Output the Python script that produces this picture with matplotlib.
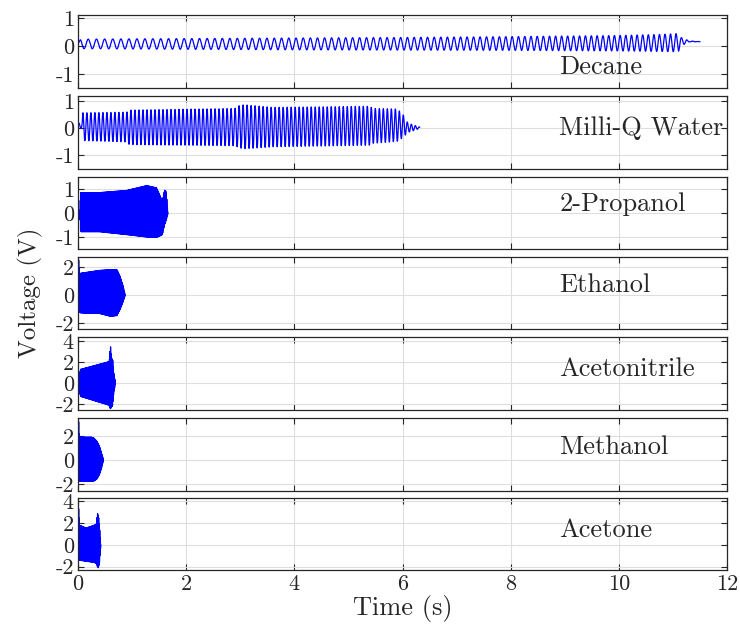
import numpy as np
import matplotlib
matplotlib.use("Agg")
import matplotlib.pyplot as plt

plt.rcParams["font.family"] = ["cmr10", "DejaVu Serif"]
plt.rcParams["mathtext.fontset"] = "cm"
plt.rcParams["axes.unicode_minus"] = False
plt.rcParams["axes.formatter.use_mathtext"] = False

# Liquids, top to bottom
names = ["Decane", "Milli-Q Water", "2-Propanol", "Ethanol",
         "Acetonitrile", "Methanol", "Acetone"]

# Envelope points: time (s), upper and lower voltage (V)
decane_t = [0, 0.05, 2, 4, 6, 8, 10, 10.8, 11.1, 11.15, 11.3, 11.5]
decane_up = [0.1, 0.24, 0.26, 0.28, 0.3, 0.33, 0.37, 0.41, 0.44, 0.3, 0.18, 0.15]
decane_lo = [0.05, -0.1, -0.12, -0.14, -0.15, -0.16, -0.18, -0.2, -0.21, 0.0, 0.14, 0.15]

water_t = [0, 0.07, 0.09, 0.9, 0.95, 2.9, 3.0, 3.1, 3.6, 5.4, 5.45, 5.9, 6.0, 6.1, 6.32]
water_up = [0.2, 0.2, 0.58, 0.6, 0.68, 0.74, 0.87, 0.87, 0.78, 0.82, 0.74, 0.72, 0.55, 0.2, 0.05]
water_lo = [0.0, 0.0, -0.45, -0.5, -0.6, -0.64, -0.73, -0.75, -0.68, -0.62, -0.55, -0.48, -0.35, -0.15, 0.0]

propanol_t = [0, 0.03, 0.05, 0.4, 0.9, 1.27, 1.45, 1.52, 1.56, 1.6, 1.63, 1.66]
propanol_up = [0, 0, 0.85, 0.85, 0.94, 1.14, 1.05, 0.7, 0.5, 0.95, 0.9, 0.1]
propanol_lo = [0, 0, -0.78, -0.78, -0.9, -1.0, -1.02, -0.95, -0.9, -0.5, -0.3, -0.05]

ethanol_t = [0, 0.01, 0.03, 0.05, 0.4, 0.6, 0.72, 0.78, 0.83, 0.87]
ethanol_up = [2.6, 2.6, 1.5, 1.55, 1.75, 1.8, 1.8, 1.3, 0.7, 0.05]
ethanol_lo = [-1.0, -1.0, -1.2, -1.26, -1.3, -1.5, -1.45, -1.0, -0.5, -0.05]

acetonitrile_t = [0, 0.02, 0.05, 0.55, 0.58, 0.6, 0.62, 0.64, 0.66, 0.69]
acetonitrile_up = [0, 0.8, 1.3, 2.0, 2.1, 3.6, 2.3, 2.3, 1.0, 0.1]
acetonitrile_lo = [0, -0.8, -1.3, -2.1, -2.2, -2.5, -2.3, -2.2, -1.0, -0.1]

methanol_t = [0, 0.01, 0.025, 0.25, 0.3, 0.35, 0.4, 0.44, 0.47]
methanol_up = [3.4, 3.4, 1.9, 1.9, 1.8, 1.55, 1.1, 0.5, 0.05]
methanol_lo = [-1.8, -1.8, -1.8, -1.8, -1.75, -1.6, -1.2, -0.6, -0.05]

acetone_t = [0, 0.01, 0.03, 0.15, 0.3, 0.34, 0.36, 0.38, 0.4, 0.42]
acetone_up = [3.5, 3.5, 1.8, 1.55, 1.8, 1.9, 2.9, 2.6, 1.5, 0.1]
acetone_lo = [-1.4, -1.4, -1.4, -1.5, -1.6, -1.7, -2.0, -2.1, -1.5, -0.1]

# Oscillation frequency (Hz) read from the cycle spacing
decane_ft = [0, 2, 4, 6, 8, 10, 11.5]
decane_f = [6.5, 7, 7.5, 8, 8.5, 9.5, 10]
water_f = 13.5
dense_f = 100.0

env_t = [decane_t, water_t, propanol_t, ethanol_t, acetonitrile_t, methanol_t, acetone_t]
env_up = [decane_up, water_up, propanol_up, ethanol_up, acetonitrile_up, methanol_up, acetone_up]
env_lo = [decane_lo, water_lo, propanol_lo, ethanol_lo, acetonitrile_lo, methanol_lo, acetone_lo]

ylims = [(-1.5, 1.1), (-1.5, 1.2), (-1.5, 1.5), (-2.4, 2.7),
         (-2.6, 4.4), (-2.6, 3.5), (-2.3, 4.3)]
yticks = [[-1, 0, 1], [-1, 0, 1], [-1, 0, 1], [-2, 0, 2],
          [-2, 0, 2, 4], [-2, 0, 2], [-2, 0, 2, 4]]
label_y = [0.29, 0.56, 0.625, 0.61, 0.56, 0.6, 0.555]


def trace(i):
    t_env = np.asarray(env_t[i], float)
    rate = 400.0 if i < 2 else 4000.0
    t = np.arange(t_env[0], t_env[-1], 1.0 / rate)
    up = np.interp(t, t_env, env_up[i])
    lo = np.interp(t, t_env, env_lo[i])
    if i == 0:
        f = np.interp(t, decane_ft, decane_f)
    elif i == 1:
        f = np.full_like(t, water_f)
    else:
        f = np.full_like(t, dense_f)
    phase = 2 * np.pi * np.cumsum(f) / rate
    return t, (up + lo) / 2 + (up - lo) / 2 * np.sin(phase)


W, H = 740, 634
fig = plt.figure(figsize=(W / 100, H / 100), dpi=100)
panel_px = [(15, 88), (96, 169), (177, 249), (257, 329),
            (337, 410), (418, 491), (498, 570)]
left, right = 78, 727
dark = (0.15, 0.15, 0.15)

axes = []
for i, (top, bot) in enumerate(panel_px):
    ax = fig.add_axes([left / W, 1 - bot / H, (right - left) / W, (bot - top) / H])
    t, v = trace(i)
    ax.plot(t, v, color=(0, 0, 1), lw=0.9)
    ax.set_xlim(0, 12)
    ax.set_ylim(*ylims[i])
    ax.set_xticks(np.arange(0, 13, 2))
    ax.set_yticks(yticks[i])
    ax.grid(True, color=(0.87, 0.87, 0.87), lw=0.8)
    ax.set_axisbelow(True)
    ax.tick_params(direction="in", top=True, right=True, length=4,
                   colors=dark, labelsize=16, pad=3)
    for s in ax.spines.values():
        s.set_color(dark)
        s.set_linewidth(0.9)
    if i < len(panel_px) - 1:
        ax.tick_params(labelbottom=False)
    ax.text(8.9, label_y[i], names[i], transform=ax.get_xaxis_transform(),
            ha="left", va="center", fontsize=19, color=dark)
    axes.append(ax)

axes[-1].set_xlabel("Time (s)", fontsize=19, color=dark, labelpad=1)
fig.text(30 / W, 1 - 293 / H, "Voltage (V)", rotation=90, ha="center",
         va="center", fontsize=18, color=dark)

fig.savefig("out.png", dpi=100)
